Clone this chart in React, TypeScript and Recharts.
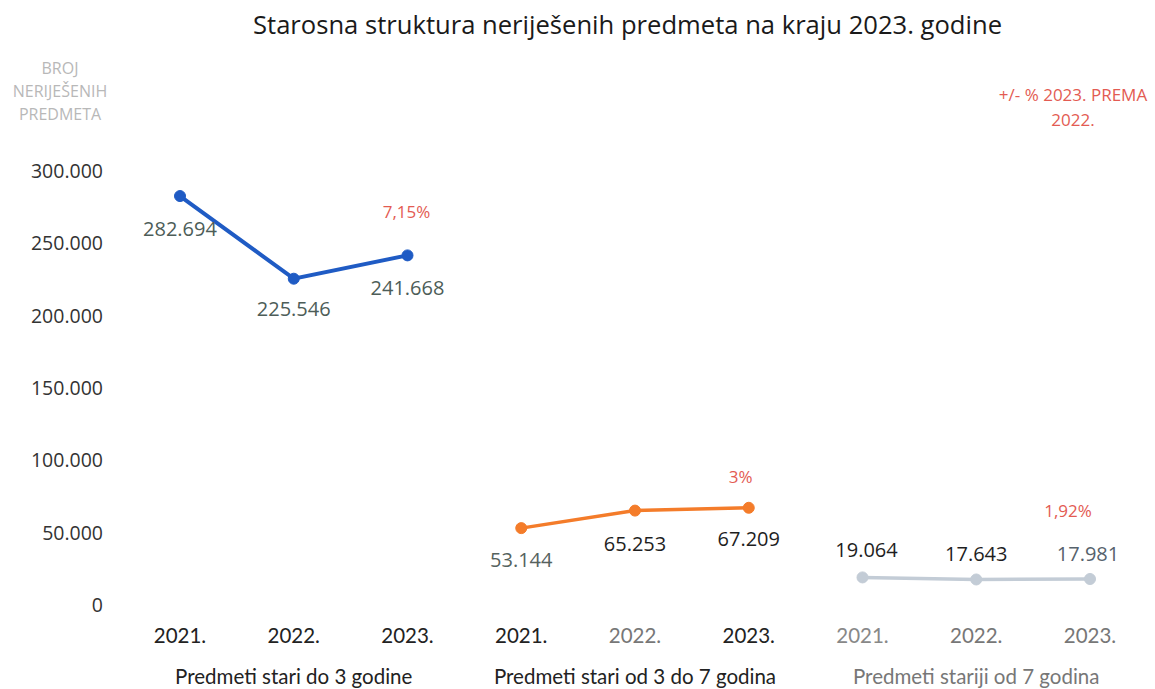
import { LineChart, Line, XAxis, YAxis, LabelList } from 'recharts';

const years = ['2021.', '2022.', '2023.', '2021.', '2022.', '2023.', '2021.', '2022.', '2023.'];
const groups = [
  'Predmeti stari do 3 godine',
  'Predmeti stari od 3 do 7 godina',
  'Predmeti stariji od 7 godina',
];
const doTri = [282694, 225546, 241668];
const triDoSedam = [53144, 65253, 67209];
const prekoSedam = [19064, 17643, 17981];
const promjena = ['7,15%', '3%', '1,92%'];
const yTicks = [0, 50000, 100000, 150000, 200000, 250000, 300000];

const series = [doTri, triDoSedam, prekoSedam];
const keys = ['a', 'b', 'c'];

const data = years.map((year, i) => {
  const g = Math.floor(i / 3);
  const row: Record<string, string | number | null> = { year, group: groups[g], a: null, b: null, c: null };
  row[keys[g]] = series[g][i % 3];
  return row;
});

const W = 1155;
const H = 689;

function fmt(n: number) {
  return String(n).replace(/\B(?=(\d{3})+(?!\d))/g, '.');
}

// label look per point (index within the whole 9-row table)
const labelColor = ['#4d5d58', '#4d5d58', '#4d5d58', '#55625e', '#1e1e1e', '#1e1e1e', '#1e1e1e', '#1e1e1e', '#56626c'];
const labelDy = [32, 30, 32, 31, 33, 31, -28, -26, -25];
const labelDx = [0, 0, 0, 0, 0, 0, 4, 0, -2];
const tickColor = ['#222', '#222', '#222', '#222', '#777', '#222', '#888', '#777', '#777'];
const groupColor = ['#222', '#222', '#777'];
const pctOffset = [
  { dx: -1, dy: -44 },
  { dx: -8, dy: -31 },
  { dx: -22, dy: -68 },
];

function valueLabel(props: any) {
  const { x, y, value, index } = props;
  if (value == null) return null;
  return (
    <text
      x={x + labelDx[index]}
      y={y + labelDy[index]}
      textAnchor="middle"
      dominantBaseline="central"
      fontFamily="'Open Sans', sans-serif"
      fontSize={20}
      fill={labelColor[index]}
    >
      {fmt(value)}
    </text>
  );
}

function pctLabel(g: number) {
  return (props: any) => {
    const { x, y, value, index } = props;
    if (value == null || index % 3 !== 2) return null;
    return (
      <text
        x={x + pctOffset[g].dx}
        y={y + pctOffset[g].dy}
        textAnchor="middle"
        dominantBaseline="central"
        fontFamily="'Open Sans', sans-serif"
        fontSize={17}
        fill="#e35b52"
      >
        {promjena[g]}
      </text>
    );
  };
}

function YearTick(props: any) {
  const { x, y, payload, index } = props;
  const i = payload.index ?? index;
  return (
    <g>
      <text
        x={x}
        y={y + 22}
        textAnchor="middle"
        dominantBaseline="central"
        fontFamily="Lato, sans-serif"
        fontSize={20.5}
        fill={tickColor[i]}
      >
        {payload.value}
      </text>
      {i % 3 === 1 && (
        <text
          x={x}
          y={y + 63}
          textAnchor="middle"
          dominantBaseline="central"
          fontFamily="Lato, sans-serif"
          fontSize={20.5}
          fill={groupColor[Math.floor(i / 3)]}
        >
          {groups[Math.floor(i / 3)]}
        </text>
      )}
    </g>
  );
}

const colors = ['#1f5bc4', '#f47c2a', '#c3ccd6'];
const widths = [4, 3.5, 3.5];

export default function App() {
  return (
    <div style={{ position: 'absolute', left: 0, top: 0, width: W, height: H, background: '#fff' }}>
      <div
        style={{
          position: 'absolute', left: 0, width: W, top: 7, textAlign: 'center',
          fontFamily: "'Open Sans', sans-serif", fontSize: 25.6, color: '#1a1a1a',
        }}
      >
        <span style={{ position: 'relative', left: 50 }}>
          Starosna struktura neriješenih predmeta na kraju 2023. godine
        </span>
      </div>
      <div
        style={{
          position: 'absolute', left: 0, width: 120, top: 57, textAlign: 'center',
          fontFamily: "'Open Sans', sans-serif", fontSize: 16, lineHeight: '23px', color: '#b8b8b8',
        }}
      >
        BROJ<br />NERIJEŠENIH<br />PREDMETA
      </div>
      <div
        style={{
          position: 'absolute', left: 983, width: 180, top: 82, textAlign: 'center',
          fontFamily: "'Open Sans', sans-serif", fontSize: 17, lineHeight: '25px', color: '#e35b52',
        }}
      >
        +/- % 2023. PREMA<br />2022.
      </div>
      <div style={{ position: 'absolute', left: 0, top: 0 }}>
        <LineChart width={W} height={H} data={data} margin={{ top: 171, right: 8, bottom: 0, left: 0 }}>
          <XAxis
            dataKey="year"
            axisLine={false}
            tickLine={false}
            interval={0}
            height={84}
            padding={{ left: 57, right: 57 }}
            tick={<YearTick />}
          />
          <YAxis
            domain={[0, 300000]}
            ticks={yTicks}
            width={123}
            axisLine={false}
            tickLine={false}
            tickMargin={14}
            tickFormatter={fmt}
            tick={{ fontFamily: "'Open Sans', sans-serif", fontSize: 19.5, fill: '#333' }}
          />
          {keys.map((k, g) => (
            <Line
              key={k}
              dataKey={k}
              stroke={colors[g]}
              strokeWidth={widths[g]}
              dot={{ r: 5.5, fill: colors[g], stroke: colors[g], strokeWidth: 1 }}
              activeDot={false}
              isAnimationActive={false}
            >
              <LabelList dataKey={k} content={valueLabel} />
              <LabelList dataKey={k} content={pctLabel(g)} />
            </Line>
          ))}
        </LineChart>
      </div>
    </div>
  );
}
